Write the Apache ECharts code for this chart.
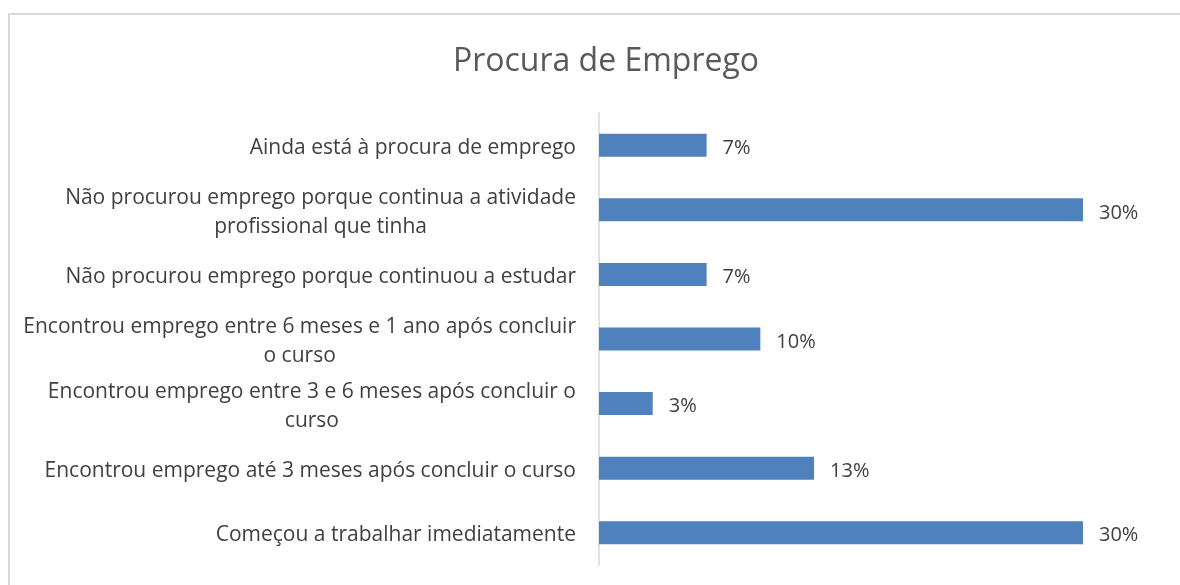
<!DOCTYPE html>
<html>
<head>
<meta charset="utf-8">
<script src="https://cdn.jsdelivr.net/npm/echarts@6/dist/echarts.min.js"></script>
<style>
  html, body { margin: 0; padding: 0; background: #fff; overflow: hidden; }
  #frame { position: absolute; left: 8px; top: 13px; width: 1200px; height: 600px; border: 2px solid #d9d9d9; box-sizing: border-box; }
  #chart { position: absolute; left: 0; top: 0; width: 1180px; height: 585px; }
</style>
</head>
<body>
<div id="frame"></div>
<div id="chart"></div>
<script>
// categories, bottom to top (as the axis draws them)
const categories = [
    'Começou a trabalhar imediatamente',
    'Encontrou emprego até 3 meses após concluir o curso',
    'Encontrou emprego entre 3 e 6 meses após concluir o\ncurso',
    'Encontrou emprego entre 6 meses e 1 ano após concluir\no curso',
    'Não procurou emprego porque continuou a estudar',
    'Não procurou emprego porque continua a atividade\nprofissional que tinha',
    'Ainda está à procura de emprego'
];
// percentages
const values = [30, 13.33, 3.33, 10, 6.67, 30, 6.67];

const font = 'Open Sans';

function wrapLabel(value)
{
    return value.split('\n').map((line) => '{c|' + line + '}').join('\n');
}

const chart = echarts.init(document.getElementById('chart'));

chart.setOption({
    animation: false,
    title: {
        text: 'Procura de Emprego',
        left: 601,
        textAlign: 'center',
        top: 41,
        textStyle: { fontFamily: font, fontSize: 32, fontWeight: 'normal', color: '#595959' }
    },
    grid: { left: 599, right: 97, top: 113, bottom: 20, containLabel: false },
    xAxis: {
        type: 'value',
        min: 0,
        max: 30,
        show: false
    },
    yAxis: {
        type: 'category',
        data: categories,
        axisLine: { show: true, lineStyle: { color: '#d9d9d9', width: 1.5 } },
        axisTick: { show: false },
        axisLabel: {
            margin: 23,
            align: 'right',
            padding: [5, 0, 0, 0],
            formatter: wrapLabel,
            rich: {
                c: { align: 'center', fontFamily: font, fontSize: 21, color: '#404040', lineHeight: 29 }
            }
        }
    },
    series: [{
        type: 'bar',
        data: values,
        barWidth: 23,
        itemStyle: { color: '#4F81BD' },
        label: {
            show: true,
            position: 'right',
            distance: 16,
            offset: [0, 3],
            formatter: (p) => Math.round(p.value) + '%',
            fontFamily: font,
            fontSize: 20,
            color: '#404040'
        }
    }]
});
</script>
</body>
</html>
